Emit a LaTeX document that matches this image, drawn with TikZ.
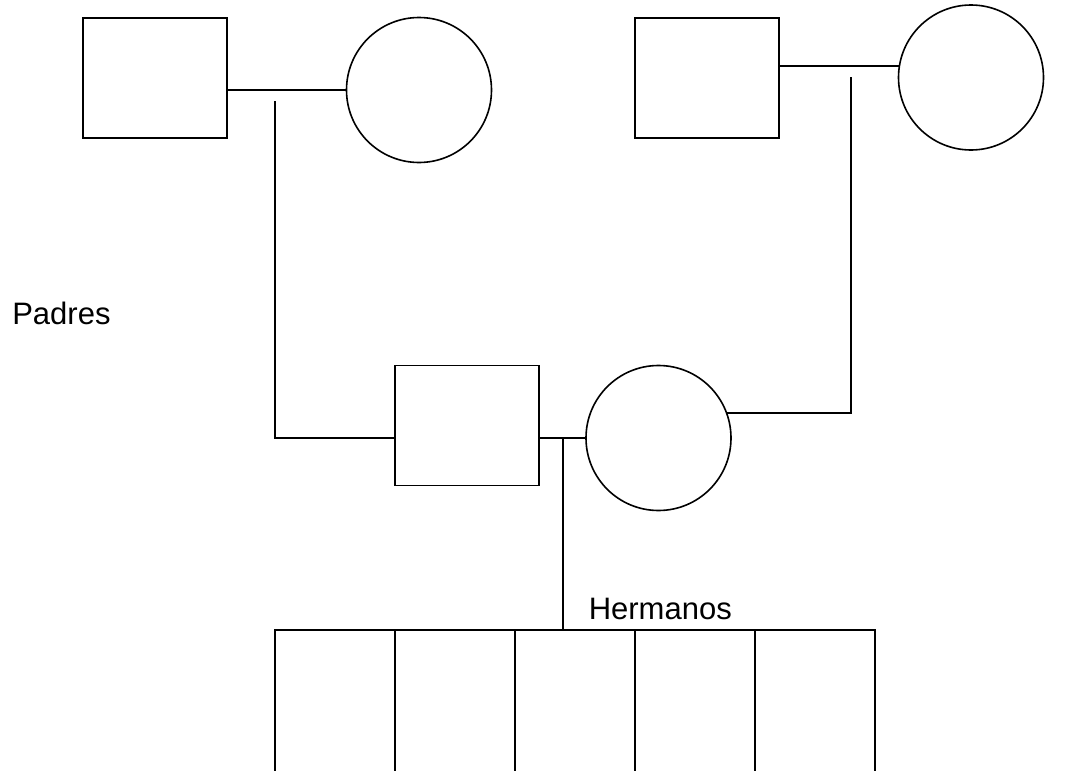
\documentclass[tikz,border=0pt]{standalone}
\usepackage{fontspec}
\setmainfont{Liberation Sans}
\begin{document}
\begin{tikzpicture}[x=1pt,y=-1pt,
  line width=1.6pt,
  male/.style={draw,rectangle,minimum width=144pt,minimum height=120pt,inner sep=0pt,outer sep=0pt},
  female/.style={draw,circle,minimum size=145pt,inner sep=0pt,outer sep=0pt},
  sibling/.style={draw,rectangle,anchor=north,minimum width=120pt,minimum height=170pt,inner sep=0pt,outer sep=0pt},
  label/.style={inner sep=0pt,font=\fontsize{31}{37}\selectfont}]
\clip (0,0) rectangle (1085,771);
\fill[white] (0,0) rectangle (1085,771);

% paternal grandparents
\node[male]   (gfa) at (154.7,78) {};
\node[female] (gma) at (419,90) {};
\draw (gma.west) -- (gma.west -| gfa.east);

% maternal grandparents
\node[male]   (gfb) at (707,78) {};
\node[female] (gmb) at (971,77.5) {};
\draw (gmb.171.4) -- (gmb.171.4 -| gfb.east);

% parents
\node[male]   (dad) at (467,425.5) {};
\node[female] (mom) at (658.5,438) {};
\draw (mom.west) -- (mom.west -| dad.east);

% descent lines
\coordinate (ja) at (274.7,101);
\coordinate (jb) at (850.7,77);
\coordinate (jc) at (563,438);
\draw (ja) |- (dad.west |- mom.west);
\draw (jb) |- (mom.20);

% siblings
\node[sibling] (s1) at (335,630) {};
\node[sibling] (s2) at (455,630) {};
\node[sibling] (s3) at (575,630) {};
\node[sibling] (s4) at (695,630) {};
\node[sibling] (s5) at (815,630) {};
\draw (jc) -- (jc |- s3.north);

% labels
\node[label,anchor=base west] (padres)   at (11.5,324) {Padres};
\node[label,anchor=base west] (hermanos) at (588,619) {Hermanos};
\end{tikzpicture}
\end{document}
